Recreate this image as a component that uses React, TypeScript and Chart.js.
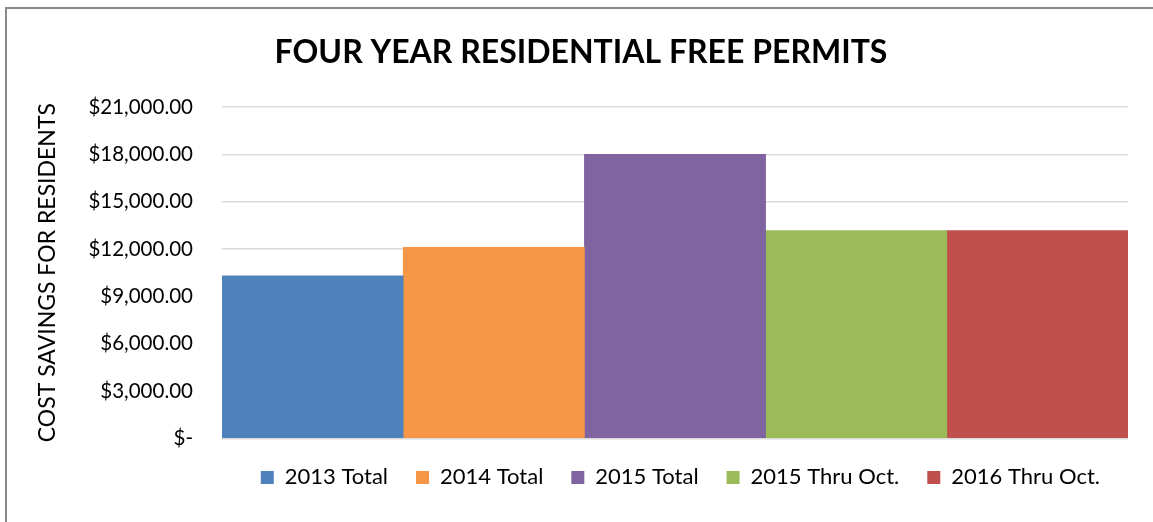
import React, { useEffect, useRef } from "react";
import { Chart, registerables } from "chart.js";

Chart.register(...registerables);

const seriesNames = ["2013 Total", "2014 Total", "2015 Total", "2015 Thru Oct.", "2016 Thru Oct."];
const seriesValues = [10300, 12100, 18000, 13175, 13175];
const seriesColors = ["#4f81bd", "#f79646", "#8064a2", "#9bbb59", "#c0504d"];
const categories = [""];
const yTicks = [0, 3000, 6000, 9000, 12000, 15000, 18000, 21000];

const FONT = "Lato, 'Open Sans', sans-serif";

function formatMoney(v: number): string {
  if (v === 0) return "$-";
  return "$" + v.toLocaleString("en-US", { minimumFractionDigits: 2, maximumFractionDigits: 2 });
}

export default function App() {
  const ref = useRef<HTMLCanvasElement | null>(null);

  useEffect(() => {
    if (!ref.current) return;
    const chart = new Chart(ref.current, {
      type: "bar",
      data: {
        labels: categories,
        datasets: seriesNames.map((name, i) => ({
          label: name,
          data: [seriesValues[i]],
          backgroundColor: seriesColors[i],
          borderWidth: 0,
          categoryPercentage: 1,
          barPercentage: 1,
        })),
      },
      options: {
        animation: false,
        responsive: false,
        maintainAspectRatio: false,
        layout: { padding: { left: 34, right: 25, top: 33, bottom: 23.6 } },
        plugins: {
          title: {
            display: true,
            text: "FOUR YEAR RESIDENTIAL FREE PERMITS",
            color: "#000",
            font: { family: FONT, size: 32, weight: "bold" },
            padding: { top: 0, bottom: 35.6 },
          },
          legend: {
            display: true,
            position: "bottom",
            align: "end",
            labels: {
              color: "#000",
              font: { family: FONT, size: 22 },
              boxWidth: 13,
              boxHeight: 13,
              padding: 28,
            },
          },
          tooltip: { enabled: false },
        },
        scales: {
          x: {
            display: false,
            grid: { display: false },
          },
          y: {
            min: 0,
            max: 21000,
            afterFit: (scale: any) => {
              scale.width = 188;
            },
            afterBuildTicks: (scale: any) => {
              scale.ticks = yTicks.map((v) => ({ value: v }));
            },
            ticks: {
              color: "#000",
              font: { family: FONT, size: 20.5 },
              padding: 29,
              callback: (v: any) => formatMoney(Number(v)),
            },
            grid: { color: "#d9d9d9", lineWidth: 1.5, drawTicks: false },
            border: { display: false },
            title: {
              display: true,
              text: "COST SAVINGS FOR RESIDENTS",
              color: "#000",
              font: { family: FONT, size: 23 },
              padding: 0,
            },
          },
        },
      },
    });
    return () => chart.destroy();
  }, []);

  return (
    <div style={{ position: "absolute", left: 0, top: 0, width: 1153, height: 522, background: "#fff", overflow: "hidden" }}>
      <div
        style={{
          position: "absolute",
          left: 5,
          top: 7,
          width: 1200,
          height: 600,
          borderLeft: "2px solid #8a8a8a",
          borderTop: "2px solid #8a8a8a",
        }}
      />
      <canvas ref={ref} width={1153} height={522} style={{ position: "absolute", left: 0, top: 0 }} />
    </div>
  );
}
